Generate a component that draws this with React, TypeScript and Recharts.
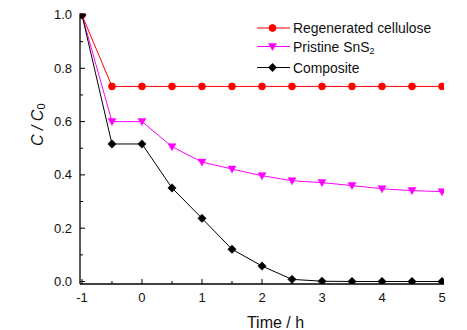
import React from 'react';
import { LineChart, Line, XAxis, YAxis, Legend } from 'recharts';

const times = [-1, -0.5, 0, 0.5, 1, 1.5, 2, 2.5, 3, 3.5, 4, 4.5, 5];
const cellulose = [1.0, 0.732, 0.732, 0.732, 0.732, 0.732, 0.732, 0.732, 0.732, 0.732, 0.732, 0.732, 0.732];
const sns2 = [1.0, 0.6, 0.6, 0.506, 0.448, 0.422, 0.397, 0.378, 0.371, 0.36, 0.348, 0.341, 0.337];
const composite = [1.0, 0.516, 0.516, 0.351, 0.237, 0.121, 0.058, 0.008, 0.001, 0.0, 0.0, 0.0, 0.0];

const seriesOrder = ['cellulose', 'sns2', 'composite'];

const xTicks = [-1, -0.5, 0, 0.5, 1, 1.5, 2, 2.5, 3, 3.5, 4, 4.5, 5];
const xMajor = [-1, 0, 1, 2, 3, 4, 5];
const yTicks = [0, 0.1, 0.2, 0.3, 0.4, 0.5, 0.6, 0.7, 0.8, 0.9, 1.0];
const yMajor = [0, 0.2, 0.4, 0.6, 0.8, 1.0];

const data = times.map((t, i) => ({
  t,
  cellulose: cellulose[i],
  sns2: sns2[i],
  composite: composite[i],
}));

const FONT = '"Liberation Sans", Arial, sans-serif';

const isMajor = (list: number[], v: number) => list.some((m) => Math.abs(m - v) < 1e-6);

const XTick = (props: any) => {
  const { x, y, payload } = props;
  const v = payload.value;
  const major = isMajor(xMajor, v);
  return (
    <g>
      <line x1={x} x2={x} y1={y} y2={y - (major ? 5 : 3)} stroke="#000" strokeWidth={1} />
      {major && (
        <text x={x} y={y + 13} textAnchor="middle" dominantBaseline="central" fontSize={13} fontFamily={FONT} fill="#111">
          {String(v)}
        </text>
      )}
    </g>
  );
};

const YTick = (props: any) => {
  const { x, y, payload } = props;
  const v = payload.value;
  const major = isMajor(yMajor, v);
  return (
    <g>
      <line x1={x} x2={x + (major ? 5 : 3)} y1={y} y2={y} stroke="#000" strokeWidth={1} />
      {major && (
        <text x={x - 8} y={y} textAnchor="end" dominantBaseline="central" fontSize={13} fontFamily={FONT} fill="#111">
          {v.toFixed(1)}
        </text>
      )}
    </g>
  );
};

const Circle = ({ cx, cy, color, r = 3.4 }: any) => <circle cx={cx} cy={cy} r={r} fill={color} stroke={color} />;
const Tri = ({ cx, cy, color }: any) => (
  <path d={`M${cx - 4},${cy - 3} L${cx + 4},${cy - 3} L${cx},${cy + 4} Z`} fill={color} stroke={color} strokeWidth={0.5} />
);
const Diamond = ({ cx, cy, color }: any) => (
  <path d={`M${cx},${cy - 4.2} L${cx + 4.2},${cy} L${cx},${cy + 4.2} L${cx - 4.2},${cy} Z`} fill={color} stroke={color} strokeWidth={0.5} />
);

const markerFor = (key: string, cx: number, cy: number, color: string) => {
  if (key === 'cellulose') return <Circle cx={cx} cy={cy} color={color} />;
  if (key === 'sns2') return <Tri cx={cx} cy={cy} color={color} />;
  return <Diamond cx={cx} cy={cy} color={color} />;
};

const renderDot = (key: string, color: string) => (props: any) => {
  const { cx, cy, index } = props;
  return <g key={`${key}-${index}`}>{markerFor(key, cx, cy, color)}</g>;
};

const LegendContent = (props: any) => {
  const { payload } = props;
  const rowY = [10, 28.5, 49.5];
  const entries = seriesOrder
    .map((k) => (payload || []).find((e: any) => e.dataKey === k))
    .filter(Boolean);
  return (
    <svg width={200} height={62} style={{ overflow: 'visible' }}>
      {entries.map((entry: any, i: number) => {
        const y = rowY[i];
        const key = entry.dataKey;
        return (
          <g key={key}>
            <line x1={0} x2={33} y1={y} y2={y} stroke={entry.color} strokeWidth={1} />
            {markerFor(key, 15.5, y, entry.color)}
            <text x={36} y={y} dominantBaseline="central" fontSize={13.9} fontFamily={FONT} fill="#111">
              {key === 'sns2' ? (
                <>
                  Pristine SnS
                  <tspan fontSize={9} dy={4}>2</tspan>
                </>
              ) : (
                entry.value
              )}
            </text>
          </g>
        );
      })}
    </svg>
  );
};

const XLabel = (props: any) => {
  const { viewBox } = props;
  const { x, y, width } = viewBox;
  return (
    <text x={x + width / 2 + 13.5} y={y + 38} textAnchor="middle" dominantBaseline="central" fontSize={16} fontFamily={FONT} fill="#111">
      Time / h
    </text>
  );
};

const YLabel = (props: any) => {
  const { viewBox } = props;
  const { y, height } = viewBox;
  const cx = 37;
  const cy = y + height / 2 - 24;
  return (
    <text
      x={cx}
      y={cy}
      transform={`rotate(-90 ${cx} ${cy})`}
      textAnchor="middle"
      dominantBaseline="central"
      fontSize={16}
      fontFamily={FONT}
      fill="#111"
    >
      <tspan fontStyle="italic">C / C</tspan>
      <tspan fontSize={11} dy={4}>0</tspan>
    </text>
  );
};

export default function App() {
  return (
    <div style={{ position: 'absolute', left: 0, top: 0, width: 467, height: 330, background: '#fff' }}>
      <LineChart width={467} height={330} data={data} margin={{ top: 13.5, right: 23, left: 0, bottom: 0 }}>
        <XAxis
          xAxisId="main"
          dataKey="t"
          type="number"
          domain={[-1.033, 5.033]}
          ticks={xTicks}
          interval={0}
          allowDataOverflow
          height={46}
          tickSize={0}
          tickMargin={0}
          tickLine={false}
          tick={<XTick />}
          axisLine={{ stroke: '#000', strokeWidth: 1.3 }}
          label={<XLabel />}
        />
        <XAxis
          xAxisId="top"
          orientation="top"
          type="number"
          domain={[-1.033, 5.033]}
          height={0}
          tick={false}
          tickLine={false}
          axisLine={{ stroke: '#000', strokeWidth: 1.3 }}
        />
        <YAxis
          yAxisId="main"
          type="number"
          domain={[-0.0094, 1.0056]}
          ticks={yTicks}
          interval={0}
          allowDataOverflow
          width={80}
          tickSize={0}
          tickMargin={0}
          tickLine={false}
          tick={<YTick />}
          axisLine={{ stroke: '#000', strokeWidth: 1.3 }}
          label={<YLabel />}
        />
        <YAxis
          yAxisId="right"
          orientation="right"
          type="number"
          domain={[-0.0094, 1.0056]}
          width={0}
          tick={false}
          tickLine={false}
          axisLine={{ stroke: '#000', strokeWidth: 1.3 }}
        />
        <Legend
          layout="vertical"
          align="center"
          verticalAlign="middle"
          wrapperStyle={{ left: 257, top: 18, width: 200, height: 62 }}
          content={<LegendContent />}
        />
        <Line
          xAxisId="main"
          yAxisId="main"
          dataKey="cellulose"
          name="Regenerated cellulose"
          type="linear"
          stroke="#ff0000"
          strokeWidth={1}
          dot={renderDot('cellulose', '#ff0000')}
          isAnimationActive={false}
        />
        <Line
          xAxisId="main"
          yAxisId="main"
          dataKey="sns2"
          name="Pristine SnS2"
          type="linear"
          stroke="#ff00ff"
          strokeWidth={1}
          dot={renderDot('sns2', '#ff00ff')}
          isAnimationActive={false}
        />
        <Line
          xAxisId="main"
          yAxisId="main"
          dataKey="composite"
          name="Composite"
          type="linear"
          stroke="#000000"
          strokeWidth={1}
          dot={renderDot('composite', '#000000')}
          isAnimationActive={false}
        />
      </LineChart>
    </div>
  );
}
